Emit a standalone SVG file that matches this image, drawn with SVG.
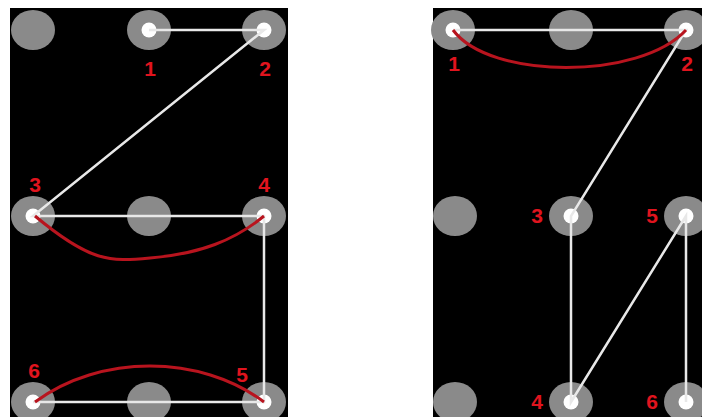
<svg xmlns="http://www.w3.org/2000/svg" width="702" height="417" viewBox="0 0 702 417">
<style>
.pad{fill:#8a8a8a}
.dot{fill:#ffffff}
.lbl{fill:#e0141e;font-family:"Liberation Sans",Arial,sans-serif;font-weight:bold;font-size:21px;text-anchor:middle}
.wire{stroke:#e8e8e8;stroke-width:2.5;fill:none}
.arc{stroke:#b8141e;stroke-width:3;fill:none}
</style>
<rect x="10" y="8" width="278" height="409" fill="#000"/>
<rect x="433" y="8" width="269" height="409" fill="#000"/>
<!-- left panel nodes -->
<g id="L-a"><ellipse class="pad" cx="33" cy="30" rx="22" ry="20"/></g>
<g id="L-1"><ellipse class="pad" cx="149" cy="30" rx="22" ry="20"/><circle class="dot" cx="149" cy="30" r="7.5"/><text class="lbl" x="150" y="76">1</text></g>
<g id="L-2"><ellipse class="pad" cx="264" cy="30" rx="22" ry="20"/><circle class="dot" cx="264" cy="30" r="7.5"/><text class="lbl" x="265" y="76">2</text></g>
<g id="L-3"><ellipse class="pad" cx="33" cy="216" rx="22" ry="20"/><circle class="dot" cx="33" cy="216" r="7.5"/><text class="lbl" x="35" y="192">3</text></g>
<g id="L-b"><ellipse class="pad" cx="149" cy="216" rx="22" ry="20"/></g>
<g id="L-4"><ellipse class="pad" cx="264" cy="216" rx="22" ry="20"/><circle class="dot" cx="264" cy="216" r="7.5"/><text class="lbl" x="264" y="192">4</text></g>
<g id="L-6"><ellipse class="pad" cx="33" cy="402" rx="22" ry="20"/><circle class="dot" cx="33" cy="402" r="7.5"/><text class="lbl" x="34" y="378">6</text></g>
<g id="L-c"><ellipse class="pad" cx="149" cy="402" rx="22" ry="20"/></g>
<g id="L-5"><ellipse class="pad" cx="264" cy="402" rx="22" ry="20"/><circle class="dot" cx="264" cy="402" r="7.5"/><text class="lbl" x="242" y="382">5</text></g>
<!-- right panel nodes -->
<g id="R-1"><ellipse class="pad" cx="453" cy="30" rx="22" ry="20"/><circle class="dot" cx="453" cy="30" r="7.5"/><text class="lbl" x="454" y="71">1</text></g>
<g id="R-a"><ellipse class="pad" cx="571" cy="30" rx="22" ry="20"/></g>
<g id="R-2"><ellipse class="pad" cx="686" cy="30" rx="22" ry="20"/><circle class="dot" cx="686" cy="30" r="7.5"/><text class="lbl" x="687" y="71">2</text></g>
<g id="R-b"><ellipse class="pad" cx="455" cy="216" rx="22" ry="20"/></g>
<g id="R-3"><ellipse class="pad" cx="571" cy="216" rx="22" ry="20"/><circle class="dot" cx="571" cy="216" r="7.5"/><text class="lbl" x="537" y="223">3</text></g>
<g id="R-5"><ellipse class="pad" cx="686" cy="216" rx="22" ry="20"/><circle class="dot" cx="686" cy="216" r="7.5"/><text class="lbl" x="652" y="223">5</text></g>
<g id="R-c"><ellipse class="pad" cx="455" cy="402" rx="22" ry="20"/></g>
<g id="R-4"><ellipse class="pad" cx="571" cy="402" rx="22" ry="20"/><circle class="dot" cx="571" cy="402" r="7.5"/><text class="lbl" x="537" y="409">4</text></g>
<g id="R-6"><ellipse class="pad" cx="686" cy="402" rx="22" ry="20"/><circle class="dot" cx="686" cy="402" r="7.5"/><text class="lbl" x="652" y="409">6</text></g>
<g id="connectors">
<path class="wire" d="M149,30 H264 L33,216 H264 V402 H33"/>
<path class="arc" d="M35,216 C90,262 110,262 150,258 C200,254 235,240 264,216"/>
<path class="arc" d="M35,402 C100,354 200,354 264,402"/>
<path class="wire" d="M453,30 H686 L571,216 V402 L686,216 V402"/>
<path class="arc" d="M453,30 C490,80 640,80 686,30"/>
</g>
</svg>
